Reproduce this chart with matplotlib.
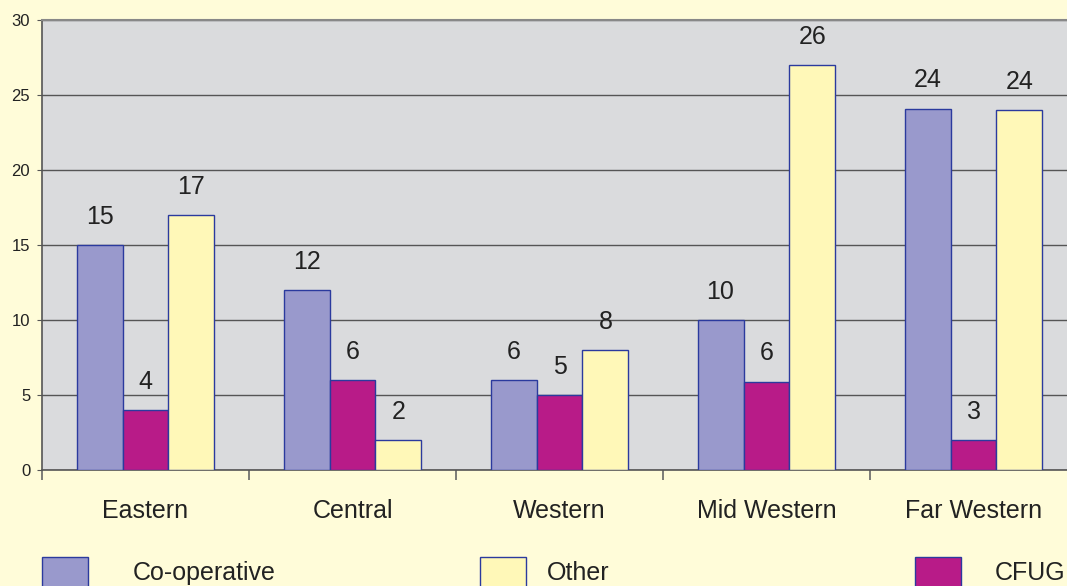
import matplotlib
matplotlib.use('Agg')
import matplotlib.pyplot as plt
import numpy as np
from matplotlib.patches import Rectangle

plt.rcParams['font.family'] = ['Liberation Sans', 'DejaVu Sans']

regions = ['Eastern', 'Central', 'Western', 'Mid Western', 'Far Western']
series = ['Co-operative', 'CFUG', 'Other']
coop = [15, 12, 6, 10, 24.1]
cfug = [4, 6, 5, 5.9, 2]
other = [17, 2, 8, 27, 24]
# the printed labels differ from the bar heights in the original
coop_lbl = ['15', '12', '6', '10', '24']
cfug_lbl = ['4', '6', '5', '6', '3']
other_lbl = ['17', '2', '8', '26', '24']
yticks = [0, 5, 10, 15, 20, 25, 30]

BG = '#FFFCD9'
PLOT_BG = '#DADBDD'
EDGE = '#2B3A9E'
COLORS = {'Co-operative': '#9999CC', 'CFUG': '#B81B88', 'Other': '#FFF8B8'}
TXT = '#222222'


def main():
    fig = plt.figure(figsize=(10.67, 5.86), dpi=100, facecolor=BG)
    W, H = 1067, 586
    ax = fig.add_axes([42 / W, (H - 470) / H, 1035 / W, 450 / H])
    ax.set_facecolor(PLOT_BG)

    x = np.arange(len(regions))
    w = 0.222
    data = [(coop, coop_lbl, 'Co-operative'),
            (cfug, cfug_lbl, 'CFUG'),
            (other, other_lbl, 'Other')]
    for i, (vals, lbls, name) in enumerate(data):
        pos = x + (i - 1) * w
        ax.bar(pos, vals, width=w, color=COLORS[name], edgecolor=EDGE,
               linewidth=1.0, zorder=3)
        for px, v, t in zip(pos, vals, lbls):
            ax.annotate(t, (px, v), xytext=(0, 20.5), textcoords='offset points',
                        ha='center', va='center', fontsize=18, color=TXT)

    ax.set_ylim(0, 30)
    ax.set_xlim(-0.5, len(regions) - 0.5)
    ax.set_yticks(yticks)
    ax.set_yticklabels([str(t) for t in yticks], fontsize=12, color=TXT)
    ax.yaxis.grid(True, color='#555555', linewidth=1.0, zorder=0)
    ax.set_axisbelow(True)

    ax.set_xticks(x)
    ax.set_xticklabels(regions, fontsize=18, color=TXT)
    ax.tick_params(axis='x', length=0, pad=21)
    ax.set_xticks(np.arange(len(regions) + 1) - 0.5, minor=True)
    ax.tick_params(axis='x', which='minor', length=7, color='#666666', width=1.2)
    ax.tick_params(axis='y', length=3.5, color='#555555', pad=5)

    for s in ['left', 'bottom']:
        ax.spines[s].set_color('#555555')
        ax.spines[s].set_linewidth(1.2)
    ax.spines['top'].set_color('#888888')
    ax.spines['top'].set_linewidth(1.5)
    ax.spines['right'].set_visible(False)

    # legend drawn by hand to keep the irregular spacing
    legend = [('Co-operative', 42, 133), ('Other', 480, 547), ('CFUG', 915, 995)]
    for name, bx, tx in legend:
        fig.add_artist(Rectangle((bx / W, -0.02), 46 / W, (H - 557) / H + 0.02,
                                 transform=fig.transFigure, facecolor=COLORS[name],
                                 edgecolor=EDGE, linewidth=1.0))
        fig.text(tx / W, (H - 573) / H, name, fontsize=18, color=TXT,
                 ha='left', va='center')

    fig.savefig('out.png', dpi=100, facecolor=BG)


if __name__ == '__main__':
    main()
